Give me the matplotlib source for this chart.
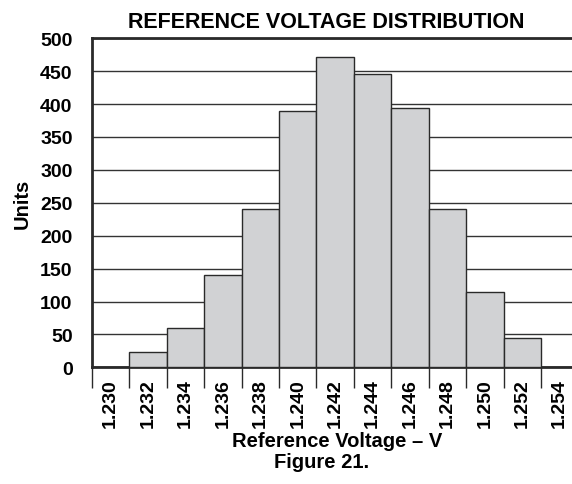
import numpy as np
import matplotlib.pyplot as plt

# данные гистограммы
bins = ["1.230", "1.232", "1.234", "1.236", "1.238", "1.240", "1.242",
        "1.244", "1.246", "1.248", "1.250", "1.252", "1.254"]
units = [0, 24, 60, 140, 240, 390, 471, 445, 394, 241, 115, 44, 0]

plt.rcParams["font.family"] = ["Liberation Sans", "DejaVu Sans"]
plt.rcParams["font.weight"] = "bold"

fig = plt.figure(figsize=(5.72, 4.85), dpi=100)
ax = fig.add_axes([92 / 572, 1 - 368.3 / 485, 486.4 / 572, 329 / 485])

x = np.arange(len(bins))
ax.bar(x, units, width=1.0, align="edge", color="#d1d2d4",
       edgecolor="#2a2a2a", linewidth=1.0, zorder=3)

ax.set_xlim(0, len(bins))
ax.set_ylim(0, 500)
ax.set_yticks(np.arange(0, 501, 50))
ax.yaxis.grid(True, color="#333333", lw=1.0, zorder=0)
ax.tick_params(axis="y", length=0, labelsize=14, pad=14)

# деления по границам, подписи по центрам интервалов
ax.set_xticks(x)
ax.set_xticklabels([])
ax.tick_params(axis="x", which="major", length=15, width=1.0, color="#2a2a2a",
               direction="out")
ax.set_xticks(x + 0.5, minor=True)
ax.set_xticklabels(bins, minor=True, rotation=90)
ax.tick_params(axis="x", which="minor", length=0, labelsize=14, pad=8)

for s in ["left", "bottom", "top"]:
    ax.spines[s].set_linewidth(2.0)
    ax.spines[s].set_color("#2a2a2a")
ax.spines["right"].set_visible(False)

ax.set_title("REFERENCE VOLTAGE DISTRIBUTION", fontsize=15.5,
             fontweight="bold", pad=8, x=(326 - 92) / 486.4)
ax.set_ylabel("Units", fontsize=14.5, fontweight="bold", labelpad=6)
fig.text(337 / 572, 1 - 442 / 485, "Reference Voltage – V", ha="center",
         va="center", fontsize=14.5, fontweight="bold")
fig.text(322 / 572, 1 - 463 / 485, "Figure 21.", ha="center",
         va="center", fontsize=14.5, fontweight="bold")

fig.savefig("out.png", dpi=100)
